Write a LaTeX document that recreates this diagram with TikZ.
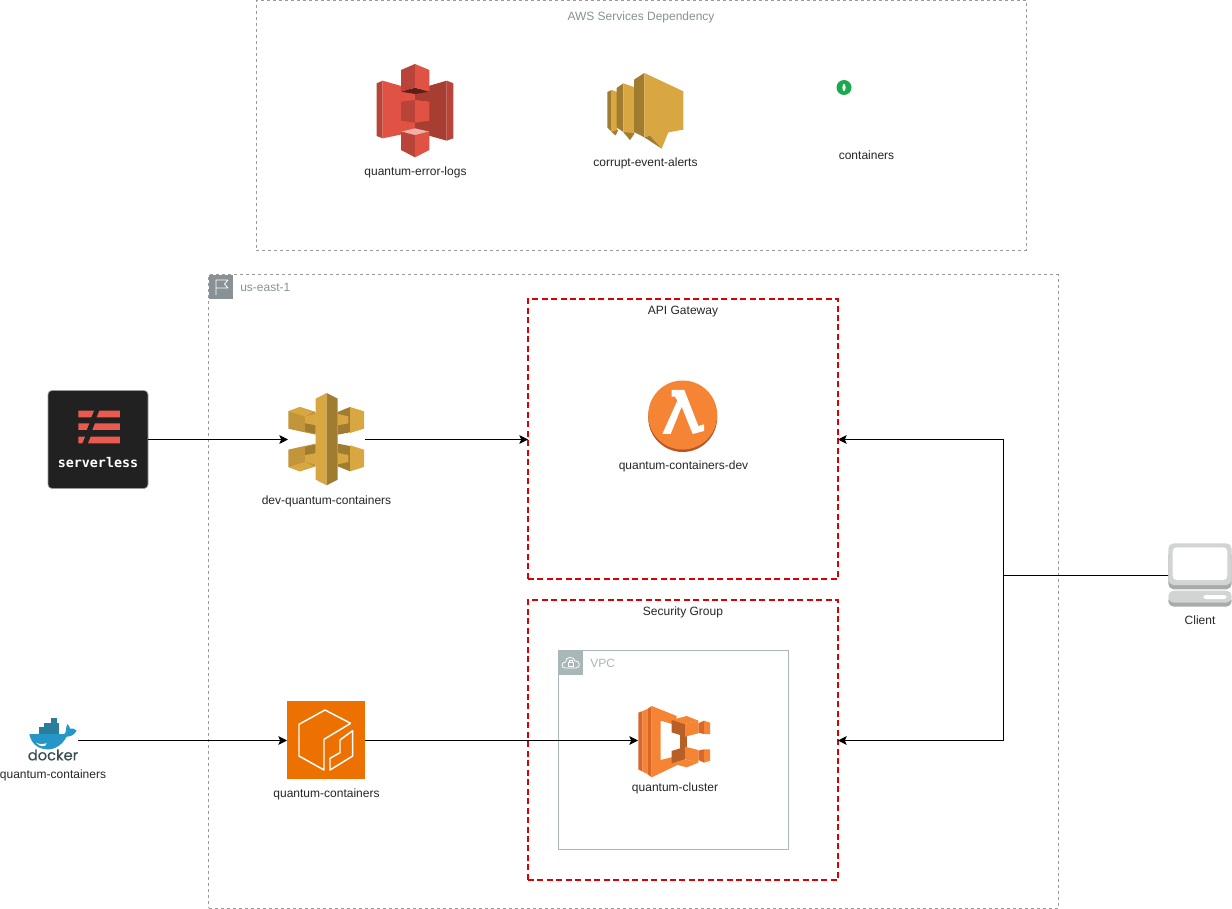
\documentclass[tikz,border=0pt]{standalone}
\usepackage{fontspec}
\setmainfont{Liberation Sans}
\newfontfamily\slsfont{DejaVu Sans Mono}
\newfontfamily\dockfont[FakeBold=0.3]{Poppins}
\usetikzlibrary{arrows.meta}
\definecolor{awsgray}{HTML}{879196}
\definecolor{vpcgray}{HTML}{AAB7B8}
\definecolor{boxgray}{HTML}{9A9A9A}
\definecolor{redline}{HTML}{DD0000}
\definecolor{sthree}{HTML}{E05243}
\definecolor{sthreed}{HTML}{A83D31}
\definecolor{sthreem}{HTML}{B8443A}
\definecolor{sthrees}{HTML}{5E1F18}
\definecolor{sthreel}{HTML}{F2B0A9}
\definecolor{gold}{HTML}{D9A741}
\definecolor{goldm}{HTML}{C2953A}
\definecolor{goldd}{HTML}{A07C31}
\definecolor{orangeL}{HTML}{F58534}
\definecolor{orangeM}{HTML}{D9672A}
\definecolor{orangeD}{HTML}{B85F28}
\definecolor{ecr}{HTML}{ED7100}
\definecolor{slsred}{HTML}{EA5A4F}
\definecolor{slsbg}{HTML}{212121}
\definecolor{dockblue}{HTML}{2496C8}
\definecolor{dockteal}{HTML}{2A7D9C}
\definecolor{dockink}{HTML}{394D54}
\definecolor{clientg}{HTML}{D2D4D4}
\definecolor{clientd}{HTML}{A9ABAB}
\definecolor{dotgreen}{HTML}{1BA94F}
\tikzset{
  hit/.style 2 args={minimum width=#1*0.75pt,minimum height=#2*0.75pt,inner sep=0pt,outer sep=0pt},
  graybox/.style={draw=boxgray,line width=0.75pt,dash pattern=on 2.25pt off 2.25pt},
  redbox/.style={draw=redline,line width=1.5pt,dash pattern=on 4.5pt off 2.6pt},
  lbl/.style={font=\fontsize{9}{11}\selectfont,text=black!85,inner sep=0pt},
  glbl/.style={font=\fontsize{9}{11}\selectfont,text=awsgray,inner sep=0pt},
  conn/.style={draw=black,line width=0.75pt,-{Stealth[length=6.5pt,width=6.5pt,inset=1.4pt]}},
  plainline/.style={draw=black,line width=0.75pt},
  sketchline/.style={draw=white,line width=0.6pt,line join=round}
}
\begin{document}
\begin{tikzpicture}[x=0.75pt,y=-0.75pt]
\useasboundingbox (0,0) rectangle (1232,909);
\fill[white] (0,0) rectangle (1232,909);

% group frames
\node[hit={770}{249.5},graybox] (deps) at (641,125.5) {};
\node[hit={849.5}{633},graybox] (region) at (633.25,591.5) {};
\node[hit={310}{280},redbox] (gate) at (683,439) {};
\node[hit={310}{280},redbox] (secgrp) at (683,740) {};
\node[hit={230}{199},draw=vpcgray,line width=0.75pt] (vpc) at (673.5,749.5) {};

% icon boxes
\node[hit={100}{98},fill=slsbg,draw=boxgray,line width=0.5pt,rounded corners=3pt] (sls) at (98,439.5) {};
\node[hit={77}{93}] (apigw) at (326.5,439.5) {};
\node[hit={78}{78},fill=ecr] (ecrbox) at (326,740) {};
\node[hit={50}{46}] (docker) at (53,740.5) {};
\node[hit={74}{68}] (ecs) at (675,740.5) {};
\node[hit={63}{64}] (client) at (1200,575.5) {};
\node[hit={69}{69}] (lambda) at (682.7,415) {};
\coordinate (junction) at (1003.5,575.5);

% connectors
\draw[conn] (sls.east) -- (apigw.west);
\draw[conn] (apigw.east) -- (gate.west |- apigw);
\draw[conn] (docker.east) -- (ecrbox.west |- docker);
\draw[conn] (ecrbox.east |- ecs) -- (ecs.west);
\draw[plainline] (client.west) -- (junction);
\draw[conn] (junction) |- (gate.east |- apigw);
\draw[conn] (junction) |- (secgrp.east |- ecs);

% region flag
\fill[awsgray] (209,275) rectangle (233,299);
\draw[sketchline] (216,295) -- (216,280) -- (228,280) -- (224.5,284) -- (228,288) -- (216,288);
% vpc cloud
\fill[vpcgray] (558,650) rectangle (583,675);
\draw[sketchline] (565,668) .. controls (561,668) and (561,662) .. (565.5,662) .. controls (565.5,656) and (574,656) .. (575,661) .. controls (580,660) and (581,668) .. (576,668) -- cycle;
\draw[white,line width=0.5pt] (568.5,662.5) rectangle (573,666.5);
\draw[white,line width=0.5pt] (569.5,662.5) -- (569.5,660.5) -- (572,660.5) -- (572,662.5);

% S3
\begin{scope}[shift={(350,50)},scale=0.33333]
\fill[sthreem] (80,100)--(98,92)--(98,265)--(80,258)--cycle;
\fill[sthree] (98,92)--(195,120)--(195,245)--(98,265)--cycle;
\fill[sthreed] (195,120)--(290,92)--(290,272)--(195,245)--cycle;
\fill[sthreem] (290,92)--(310,100)--(310,265)--(290,272)--cycle;
\fill[sthrees] (153,125)--(195,113)--(238,125)--(195,132)--cycle;
\fill[sthreem] (153,60)--(195,42)--(195,113)--(153,125)--cycle;
\fill[sthree] (195,42)--(238,60)--(238,125)--(195,113)--cycle;
\fill[sthreem] (153,155)--(195,150)--(195,218)--(153,212)--cycle;
\fill[sthree] (195,150)--(238,155)--(238,212)--(195,218)--cycle;
\fill[sthreel] (153,245)--(195,235)--(238,245)--(195,255)--cycle;
\fill[sthreem] (153,245)--(195,255)--(195,322)--(153,300)--cycle;
\fill[sthree] (238,245)--(238,300)--(195,322)--(195,255)--cycle;
\end{scope}

% SNS
\begin{scope}[shift={(600,68)},scale=0.33333]
\fill[goldd] (22,72)--(35,66)--(35,192)--(22,178)--cycle;
\fill[gold] (35,66)--(52,72)--(52,190)--(47,202)--(35,192)--cycle;
\fill[goldd] (35,192)--(47,202)--(55,185)--cycle;
\fill[goldd] (50,60)--(70,46)--(70,192)--(50,178)--cycle;
\fill[gold] (70,46)--(104,58)--(104,192)--(90,216)--(70,192)--cycle;
\fill[goldd] (70,192)--(90,216)--(104,196)--cycle;
\fill[goldd] (102,35)--(133,15)--(133,208)--(102,192)--cycle;
\fill[gold] (133,15)--(250,70)--(250,185)--(205,193)--(185,242)--(150,203)--(133,208)--cycle;
\fill[goldd] (133,208)--(150,203)--(185,242)--cycle;
\end{scope}

% green dot
\fill[dotgreen] (844,87.5) circle[radius=7.5];
\fill[white] (844,87.5) ellipse[x radius=1.6,y radius=3.6];

% API Gateway
\begin{scope}[shift={(280,388)},scale=0.33333]
\foreach \ys/\oy in {1/0,-1/307}{
\begin{scope}[shift={(0,\oy)},yscale=\ys]
\fill[goldm] (25,70)--(60,57)--(107,72)--(107,140)--(60,130)--(25,122)--cycle;
\fill[gold] (25,70)--(60,57)--(100,72)--(75,85)--cycle;
\fill[gold] (75,85)--(107,78)--(107,112)--(75,106)--cycle;
\fill[goldd] (75,106)--(107,112)--(107,137)--(75,130)--cycle;
\fill[goldd] (173,72)--(210,57)--(210,133)--(173,140)--cycle;
\fill[gold] (210,57)--(252,70)--(252,122)--(210,135)--cycle;
\fill[gold] (173,78)--(205,85)--(205,106)--(173,112)--cycle;
\end{scope}}
\fill[gold] (107,32)--(140,15)--(140,292)--(107,275)--cycle;
\fill[goldd] (140,15)--(173,32)--(173,275)--(140,292)--cycle;
\end{scope}

% Lambda
\fill[orangeM!85!black] (682.7,417.5) circle[radius=34.5];
\fill[orangeL] (682.7,415) circle[radius=34.5];
\begin{scope}[shift={(630,370)},scale=0.33333]
\fill[white] (125,60)--(163,60)--(205,168)--(222,163)--(222,183)--(188,192)--(155,110)--(122,192)--(97,192)--(142,92)--(135,80)--(125,80)--cycle;
\end{scope}

% Serverless mark
\begin{scope}[shift={(30,380)},scale=0.33333]
\fill[slsred] (145,92)--(192,92)--(184,112)--(145,112)--cycle;
\fill[slsred] (208,92)--(270,92)--(270,112)--(200,112)--cycle;
\fill[slsred] (145,130)--(178,130)--(170,150)--(145,150)--cycle;
\fill[slsred] (195,130)--(270,130)--(270,150)--(187,150)--cycle;
\fill[slsred] (145,170)--(165,170)--(157,190)--(145,190)--cycle;
\fill[slsred] (182,170)--(270,170)--(270,190)--(174,190)--cycle;
\end{scope}
\node[inner sep=0pt,text=white,font=\slsfont\bfseries\fontsize{10}{12}\selectfont] (slstext) at (98,463) {serverless};

% ECR mark
\begin{scope}[shift={(0,690)},scale=0.33333]
\draw[sketchline,line width=1.1pt] (1052,100)--(975,60)--(897,103)--(897,198)--(972,240)--(972,148)--(1052,100);
\draw[sketchline,line width=1.1pt] (990,240)--(990,205)--(1020,188)--(1020,150)--(1058,122)--(1058,198)--cycle;
\end{scope}

% Docker whale
\begin{scope}[shift={(20,712)},scale=0.33333]
\fill[dockteal] (58,46) rectangle (118,68);
\fill[dockteal] (72,32) rectangle (118,46);
\fill[dockteal] (92,18) rectangle (110,32);
\fill[dockblue] (28,66)--(133,66) .. controls (140,62) and (136,48) .. (142,36) .. controls (147,40) and (150,46) .. (150,50) .. controls (156,48) and (164,50) .. (170,56) .. controls (162,70) and (150,74) .. (140,74) .. controls (128,97) and (105,114) .. (80,112) .. controls (50,110) and (33,92) .. (28,66) -- cycle;
\fill[white] (48,92) .. controls (60,98) and (70,97) .. (80,94) .. controls (78,106) and (60,106) .. (48,92) -- cycle;
\end{scope}
\node[inner sep=0pt,text=dockink,font=\dockfont\fontsize{11}{12}\selectfont] (dockword) at (53,755) {docker};

% ECS
\begin{scope}[shift={(630,700)},scale=0.33333]
\fill[orangeM] (25,38)--(38,33)--(38,215)--(25,208)--cycle;
\fill[orangeL] (38,33)--(52,27)--(52,222)--(38,215)--cycle;
\fill[orangeM] (52,27)--(65,18)--(65,232)--(52,222)--cycle;
\fill[orangeL] (65,18)--(140,48)--(140,76)--(92,62)--(92,180)--(140,168)--(140,196)--(65,232)--cycle;
\fill[orangeD] (150,100)--(170,100)--(170,150)--(150,150)--cycle;
\foreach \ys/\oy in {1/0,-1/250}{
\begin{scope}[shift={(0,\oy)},yscale=\ys]
\fill[orangeM] (205,70)--(222,62)--(222,102)--(205,98)--cycle;
\fill[orangeL] (222,62)--(240,68)--(240,102)--(222,102)--cycle;
\fill[orangeL] (125,60)--(170,48)--(205,62)--(165,72)--cycle;
\fill[orangeD] (125,60)--(165,72)--(165,110)--(125,97)--cycle;
\fill[orangeL] (165,72)--(205,62)--(205,100)--(165,110)--cycle;
\end{scope}}
\end{scope}

% Client
\begin{scope}[shift={(1150,530)},scale=0.33333]
\fill[clientd,rounded corners=4pt] (55,60) rectangle (245,178);
\fill[clientg,rounded corners=4pt] (55,40) rectangle (245,165);
\fill[white,rounded corners=3pt] (68,52) rectangle (232,150);
\fill[clientd,rounded corners=4pt] (55,195) rectangle (245,230);
\fill[clientg,rounded corners=4pt] (55,182) rectangle (245,218);
\fill[white,rounded corners=2pt] (160,195) rectangle (230,207);
\end{scope}

% labels
\node[glbl] (depslabel) at (641,17.5) {AWS Services Dependency};
\node[glbl,anchor=west] (regionlabel) at (240,287.5) {us-east-1};
\node[lbl] (gatelabel) at (683,311.5) {API Gateway};
\node[lbl] (secgrplabel) at (683,612.5) {Security Group};
\node[glbl,anchor=west,text=vpcgray] (vpclabel) at (590,663) {VPC};
\node[lbl] (s3label) at (415.5,172) {quantum-error-logs};
\node[lbl] (snslabel) at (645.5,163.5) {corrupt-event-alerts};
\node[lbl] (contlabel) at (866.5,155) {containers};
\node[lbl] (apilabel) at (326.5,501) {dev-quantum-containers};
\node[lbl] (lambdalabel) at (683.5,466) {quantum-containers-dev};
\node[lbl] (ecrlabel) at (326.5,794) {quantum-containers};
\node[lbl] (ecslabel) at (675,788) {quantum-cluster};
\node[lbl] (dockerlabel) at (53,775) {quantum-containers};
\node[lbl] (clientlabel) at (1200,620) {Client};
\end{tikzpicture}
\end{document}
